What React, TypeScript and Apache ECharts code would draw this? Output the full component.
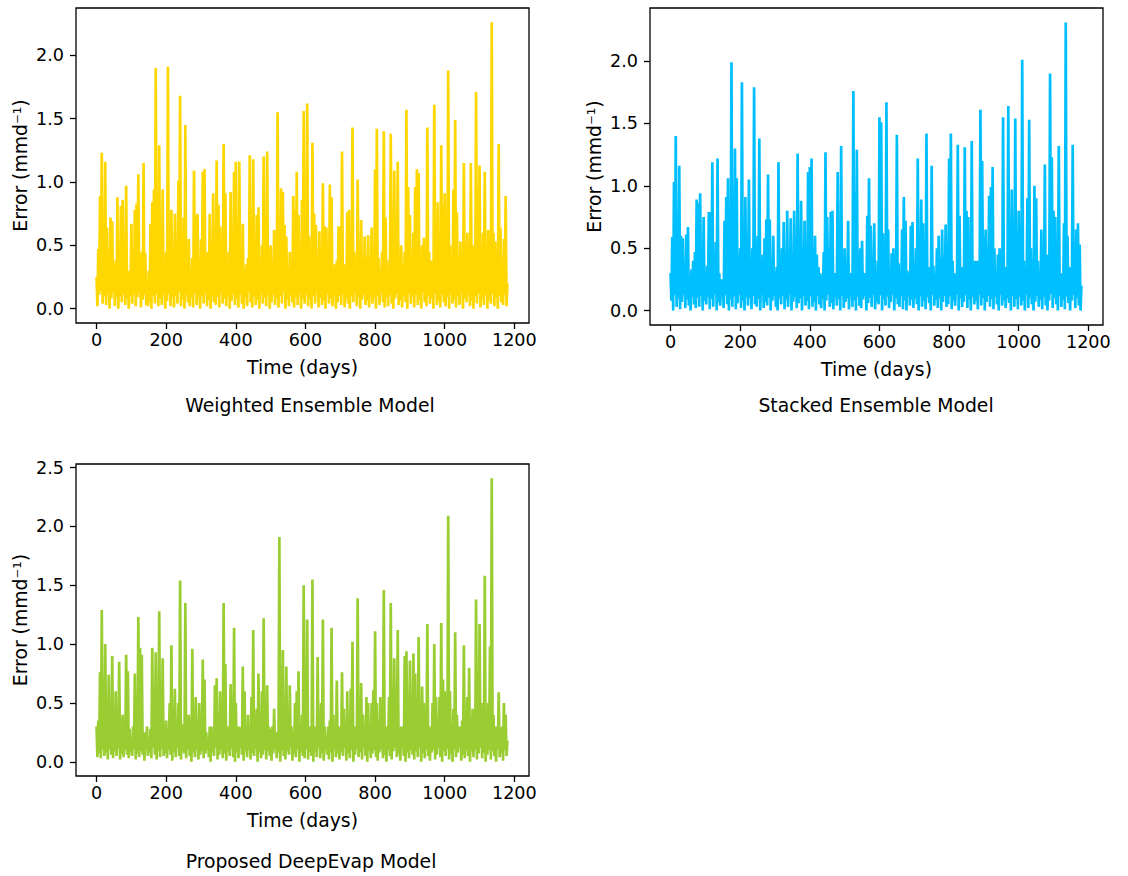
import React, { useEffect, useRef } from "react";
import * as echarts from "echarts";

// Peaks are sampled every STEP_DAYS; troughs sit half-way between consecutive peaks
const STEP_DAYS = 5;

const xTicks = [0, 200, 400, 600, 800, 1000, 1200];
const yTicksA = [0, 0.5, 1, 1.5, 2];
const yTicksB = [0, 0.5, 1, 1.5, 2, 2.5];

const titles = ["Weighted Ensemble Model", "Stacked Ensemble Model", "Proposed DeepEvap Model"];
const xName = "Time (days)";
const yName = "Error (mmd\u207B\u00B9)";
const colors = ["#FFD700", "#00BFFF", "#9ACD32"];

// Weighted Ensemble Model error (mm/d): local highs, days 0..1180 every 5 days
const weightedHigh = [
  0.25, 0.47, 0.89, 1.23, 0.32, 1.16, 0.64, 0.28, 0.72, 0.69, 0.35, 0.38, 0.88, 0.3, 0.81, 0.86, 0.4, 0.97, 0.3, 0.26,
  0.67, 0.35, 0.78, 0.83, 1.06, 0.3, 0.45, 1.15, 0.44, 0.22, 0.3, 0.67, 0.84, 0.94, 1.9, 0.42, 1.29, 0.25, 0.94, 0.38,
  0.45, 1.91, 0.35, 0.78, 0.3, 0.75, 0.3, 1.01, 1.68, 0.4, 0.72, 1.45, 0.33, 0.55, 0.28, 0.4, 1.09, 0.73, 0.75, 0.3,
  0.55, 1.08, 1.1, 0.36, 0.45, 0.75, 0.2, 0.91, 0.42, 1.17, 0.82, 0.65, 0.3, 1.3, 0.91, 0.27, 0.45, 0.92, 0.35, 1.08,
  1.16, 0.38, 1.16, 0.5, 0.67, 0.3, 0.35, 0.4, 1.21, 0.25, 1.18, 0.3, 0.74, 0.8, 0.35, 0.5, 1.2, 0.33, 1.24, 0.3,
  0.5, 0.28, 0.62, 0.3, 1.55, 0.4, 0.95, 0.92, 0.66, 0.57, 0.3, 0.45, 0.36, 0.89, 0.78, 1.08, 0.74, 0.28, 0.86, 1.56,
  0.4, 1.62, 0.57, 0.3, 1.31, 0.75, 0.66, 0.35, 0.61, 0.42, 0.99, 0.65, 0.64, 0.3, 0.98, 0.88, 0.25, 0.35, 0.38, 0.65,
  0.65, 1.24, 0.3, 0.35, 0.76, 0.78, 0.28, 1.43, 0.45, 0.35, 1.02, 0.32, 0.7, 0.3, 0.57, 0.4, 0.58, 0.2, 0.64, 0.35,
  1.1, 1.42, 0.4, 0.3, 0.45, 1.4, 0.72, 0.26, 0.38, 1.38, 0.4, 1.09, 0.3, 1.16, 0.3, 0.5, 0.35, 0.45, 1.57, 0.96,
  0.74, 0.3, 0.6, 0.96, 1.1, 1.07, 0.42, 0.5, 0.56, 0.3, 1.43, 0.45, 0.38, 0.35, 1.61, 0.6, 0.84, 0.3, 1.29, 0.82,
  0.91, 0.35, 1.88, 0.5, 0.28, 0.94, 1.49, 0.76, 0.4, 0.53, 0.3, 1.15, 0.5, 0.6, 0.33, 1.15, 0.5, 0.36, 1.71, 0.94,
  1.13, 0.3, 0.6, 1.08, 0.5, 0.62, 0.4, 2.26, 0.6, 0.53, 0.3, 1.3, 0.64, 0.35, 0.55, 0.89, 0.2,
];
const weightedLow = [
  0.02, 0.11, 0.14, 0.04, 0.1, 0.03, 0.12, 0.0, 0.08, 0.13, 0.02, 0.09, 0.0, 0.1, 0.05, 0.12, 0.03, 0.08, 0.0, 0.1,
  0.04, 0.12, 0.02, 0.09, 0.13, 0.01, 0.07, 0.11, 0.03, 0.02, 0.05, 0.0, 0.1, 0.04, 0.12, 0.02, 0.08, 0.03, 0.11, 0.0,
  0.06, 0.12, 0.02, 0.09, 0.01, 0.1, 0.04, 0.13, 0.02, 0.07, 0.0, 0.11, 0.05, 0.02, 0.09, 0.01, 0.12, 0.03, 0.08, 0.0,
  0.1, 0.04, 0.12, 0.02, 0.07, 0.0, 0.11, 0.05, 0.03, 0.09, 0.01, 0.13, 0.04, 0.08, 0.02, 0.1, 0.0, 0.06, 0.12, 0.03,
  0.08, 0.01, 0.11, 0.04, 0.0, 0.09, 0.02, 0.13, 0.05, 0.01, 0.1, 0.03, 0.07, 0.0, 0.12, 0.04, 0.09, 0.02, 0.11, 0.0,
  0.05, 0.12, 0.03, 0.08, 0.01, 0.1, 0.04, 0.13, 0.0, 0.07, 0.02, 0.11, 0.05, 0.01, 0.09, 0.03, 0.12, 0.0, 0.08, 0.04,
  0.11, 0.02, 0.07, 0.0, 0.1, 0.04, 0.13, 0.01, 0.09, 0.03, 0.06, 0.0, 0.12, 0.04, 0.08, 0.02, 0.11, 0.0, 0.05, 0.1,
  0.03, 0.12, 0.01, 0.08, 0.04, 0.0, 0.1, 0.05, 0.13, 0.02, 0.09, 0.0, 0.07, 0.11, 0.03, 0.06, 0.01, 0.12, 0.04, 0.08,
  0.0, 0.1, 0.03, 0.13, 0.05, 0.01, 0.09, 0.02, 0.11, 0.04, 0.0, 0.08, 0.12, 0.03, 0.07, 0.01, 0.1, 0.05, 0.0, 0.12,
  0.04, 0.09, 0.01, 0.11, 0.03, 0.07, 0.0, 0.13, 0.05, 0.02, 0.1, 0.04, 0.08, 0.0, 0.12, 0.03, 0.06, 0.01, 0.11, 0.05,
  0.02, 0.09, 0.0, 0.12, 0.04, 0.07, 0.01, 0.1, 0.03, 0.13, 0.0, 0.08, 0.05, 0.11, 0.02, 0.06, 0.0, 0.1, 0.04, 0.12,
  0.01, 0.08, 0.03, 0.11, 0.0, 0.07, 0.04, 0.12, 0.02, 0.09, 0.0, 0.1, 0.05, 0.03, 0.11, 0.02,
];

// Stacked Ensemble Model error (mm/d)
const stackedHigh = [
  0.3, 0.59, 1.03, 1.4, 0.35, 1.16, 0.6, 0.58, 0.3, 0.61, 0.67, 0.28, 0.33, 0.4, 0.47, 0.89, 0.86, 0.94, 0.3, 0.75,
  0.3, 0.36, 0.79, 0.79, 1.19, 0.4, 0.55, 1.22, 0.3, 0.25, 0.25, 0.72, 0.91, 1.06, 0.42, 1.99, 0.6, 1.3, 1.06, 0.35,
  0.5, 1.83, 0.3, 0.91, 0.3, 1.05, 0.38, 0.5, 1.79, 0.4, 0.6, 1.38, 0.3, 0.45, 0.58, 0.73, 1.09, 0.73, 0.4, 0.6,
  0.3, 0.35, 1.19, 0.28, 0.5, 0.71, 0.42, 0.8, 0.3, 0.74, 0.4, 0.8, 0.3, 1.26, 0.45, 0.88, 0.32, 0.72, 0.2, 1.11,
  1.15, 1.22, 0.3, 0.6, 0.45, 0.35, 0.3, 0.28, 0.47, 1.27, 0.75, 0.36, 0.79, 0.8, 0.3, 0.3, 1.11, 0.73, 1.32, 0.4,
  0.5, 0.35, 0.72, 0.3, 0.3, 1.76, 0.95, 1.29, 0.38, 0.5, 0.56, 0.3, 0.3, 0.76, 1.06, 0.68, 0.35, 0.7, 0.3, 0.4,
  1.55, 1.51, 0.62, 0.3, 1.67, 0.65, 0.28, 0.46, 0.5, 0.35, 1.41, 0.38, 0.3, 0.65, 0.91, 0.72, 0.32, 0.3, 0.68, 0.71,
  0.35, 0.5, 1.22, 0.3, 0.89, 0.7, 0.4, 1.42, 0.28, 0.35, 1.16, 0.36, 0.3, 0.5, 0.6, 0.42, 0.65, 0.3, 0.69, 0.35,
  1.22, 1.42, 0.4, 0.3, 0.3, 1.33, 0.76, 0.35, 0.35, 1.31, 0.8, 0.75, 0.3, 1.36, 0.35, 0.4, 0.4, 0.3, 1.61, 1.2,
  0.6, 0.65, 0.4, 0.92, 0.99, 1.15, 0.5, 0.3, 0.45, 0.5, 0.38, 1.55, 0.35, 0.3, 1.64, 0.6, 0.97, 0.35, 1.54, 0.6,
  0.8, 0.42, 2.01, 0.4, 0.3, 0.9, 1.53, 0.5, 0.35, 1.0, 0.9, 0.4, 0.3, 0.65, 0.4, 1.17, 0.45, 0.3, 1.9, 1.23,
  0.8, 0.75, 0.35, 1.32, 0.3, 0.3, 0.7, 2.31, 0.6, 0.35, 0.3, 1.33, 0.3, 0.65, 0.7, 0.53, 0.2,
];
const stackedLow = [
  0.08, 0.0, 0.12, 0.03, 0.1, 0.01, 0.07, 0.13, 0.02, 0.09, 0.04, 0.0, 0.11, 0.05, 0.02, 0.1, 0.03, 0.12, 0.0, 0.08,
  0.05, 0.11, 0.01, 0.09, 0.03, 0.13, 0.0, 0.07, 0.04, 0.1, 0.02, 0.12, 0.05, 0.0, 0.09, 0.03, 0.11, 0.01, 0.06, 0.13,
  0.02, 0.08, 0.0, 0.11, 0.04, 0.1, 0.01, 0.12, 0.05, 0.03, 0.09, 0.0, 0.13, 0.02, 0.07, 0.04, 0.1, 0.0, 0.08, 0.12,
  0.03, 0.0, 0.1, 0.05, 0.12, 0.01, 0.09, 0.03, 0.13, 0.0, 0.07, 0.11, 0.02, 0.06, 0.1, 0.0, 0.12, 0.04, 0.08, 0.01,
  0.11, 0.03, 0.07, 0.0, 0.12, 0.05, 0.02, 0.1, 0.0, 0.08, 0.13, 0.03, 0.06, 0.01, 0.11, 0.04, 0.09, 0.0, 0.12, 0.02,
  0.07, 0.1, 0.01, 0.13, 0.03, 0.08, 0.0, 0.11, 0.04, 0.02, 0.09, 0.12, 0.0, 0.06, 0.1, 0.03, 0.13, 0.01, 0.07, 0.05,
  0.12, 0.0, 0.09, 0.04, 0.11, 0.02, 0.07, 0.13, 0.0, 0.1, 0.05, 0.03, 0.12, 0.01, 0.08, 0.0, 0.11, 0.04, 0.09, 0.02,
  0.1, 0.05, 0.0, 0.12, 0.03, 0.08, 0.01, 0.11, 0.06, 0.0, 0.13, 0.04, 0.09, 0.02, 0.1, 0.0, 0.07, 0.12, 0.03, 0.05,
  0.11, 0.01, 0.08, 0.04, 0.13, 0.0, 0.1, 0.03, 0.07, 0.12, 0.02, 0.09, 0.0, 0.11, 0.05, 0.08, 0.01, 0.13, 0.04, 0.1,
  0.0, 0.07, 0.12, 0.03, 0.09, 0.01, 0.11, 0.05, 0.0, 0.13, 0.04, 0.08, 0.02, 0.1, 0.06, 0.0, 0.12, 0.03, 0.09, 0.01,
  0.11, 0.04, 0.08, 0.0, 0.13, 0.02, 0.1, 0.05, 0.0, 0.07, 0.12, 0.03, 0.09, 0.01, 0.11, 0.04, 0.0, 0.08, 0.13, 0.02,
  0.1, 0.05, 0.0, 0.12, 0.03, 0.09, 0.01, 0.11, 0.06, 0.0, 0.08, 0.13, 0.02, 0.1, 0.04, 0.0,
];

// Proposed DeepEvap Model error (mm/d)
const deepEvapHigh = [
  0.3, 0.35, 0.76, 1.29, 0.3, 1.0, 0.3, 0.74, 0.25, 0.9, 0.3, 0.6, 0.22, 0.85, 0.3, 0.4, 0.35, 0.91, 0.77, 0.28,
  0.2, 0.3, 0.75, 0.35, 1.23, 0.97, 0.91, 0.25, 0.25, 0.3, 0.2, 0.28, 0.97, 0.4, 0.93, 0.3, 1.28, 0.45, 0.88, 0.3,
  0.35, 0.25, 0.5, 0.99, 0.45, 0.62, 0.3, 0.5, 1.54, 0.2, 0.32, 1.35, 0.3, 0.4, 0.25, 0.96, 0.3, 0.55, 0.28, 0.5,
  0.3, 0.87, 0.7, 0.25, 0.2, 0.3, 0.3, 0.22, 0.65, 0.71, 0.3, 0.6, 0.25, 1.35, 0.83, 0.3, 0.3, 0.66, 0.35, 1.14,
  0.5, 0.3, 0.3, 0.25, 0.81, 0.6, 0.3, 0.4, 0.28, 0.55, 1.12, 0.3, 0.45, 0.75, 0.25, 0.6, 1.22, 0.3, 0.65, 0.3,
  0.28, 0.3, 0.45, 0.25, 0.25, 1.91, 0.3, 0.95, 0.5, 0.81, 0.3, 0.65, 0.3, 0.25, 0.5, 0.6, 0.77, 0.3, 0.4, 1.5,
  0.35, 1.21, 0.3, 0.25, 1.55, 0.25, 0.3, 0.89, 0.28, 0.5, 1.21, 0.3, 0.2, 0.3, 0.35, 1.14, 0.4, 0.25, 0.69, 0.3,
  0.28, 0.76, 0.45, 0.3, 0.6, 0.25, 0.62, 1.02, 0.3, 0.28, 1.39, 0.35, 0.67, 0.4, 0.3, 0.55, 0.5, 0.3, 0.5, 0.61,
  1.11, 0.5, 0.3, 0.55, 0.35, 1.46, 0.2, 0.3, 0.55, 1.35, 0.3, 0.88, 0.28, 1.12, 0.2, 0.3, 0.3, 0.9, 0.94, 0.4,
  0.86, 0.3, 0.92, 0.75, 0.5, 1.06, 0.3, 0.64, 0.5, 0.25, 1.17, 0.2, 0.3, 0.5, 1.0, 0.55, 0.3, 0.55, 1.18, 0.7,
  0.6, 0.3, 2.09, 0.6, 0.28, 0.45, 1.1, 0.4, 0.3, 0.3, 0.35, 0.99, 0.2, 0.55, 0.8, 0.3, 0.45, 0.3, 1.38, 0.7,
  1.17, 0.5, 0.3, 1.58, 0.4, 0.5, 0.98, 2.41, 0.4, 0.3, 0.3, 0.59, 0.28, 0.3, 0.5, 0.4, 0.18,
];
const deepEvapLow = [
  0.04, 0.07, 0.03, 0.1, 0.05, 0.08, 0.02, 0.11, 0.06, 0.03, 0.09, 0.05, 0.12, 0.02, 0.07, 0.04, 0.1, 0.06, 0.03, 0.08,
  0.05, 0.11, 0.02, 0.07, 0.04, 0.09, 0.06, 0.01, 0.1, 0.05, 0.08, 0.03, 0.12, 0.06, 0.02, 0.09, 0.04, 0.11, 0.05, 0.07,
  0.03, 0.1, 0.06, 0.01, 0.08, 0.04, 0.12, 0.05, 0.02, 0.09, 0.07, 0.03, 0.11, 0.05, 0.0, 0.08, 0.04, 0.1, 0.02, 0.06,
  0.09, 0.03, 0.07, 0.11, 0.04, 0.0, 0.08, 0.05, 0.12, 0.02, 0.06, 0.1, 0.03, 0.07, 0.01, 0.09, 0.05, 0.11, 0.04, 0.0,
  0.08, 0.03, 0.12, 0.06, 0.01, 0.09, 0.04, 0.1, 0.02, 0.07, 0.05, 0.11, 0.0, 0.08, 0.03, 0.06, 0.1, 0.02, 0.09, 0.05,
  0.01, 0.07, 0.11, 0.03, 0.08, 0.0, 0.1, 0.05, 0.02, 0.09, 0.06, 0.12, 0.01, 0.07, 0.04, 0.1, 0.0, 0.08, 0.05, 0.03,
  0.11, 0.02, 0.08, 0.05, 0.0, 0.09, 0.04, 0.12, 0.03, 0.07, 0.01, 0.1, 0.06, 0.02, 0.08, 0.0, 0.11, 0.04, 0.07, 0.02,
  0.09, 0.05, 0.12, 0.01, 0.07, 0.03, 0.1, 0.0, 0.06, 0.11, 0.04, 0.08, 0.02, 0.12, 0.05, 0.0, 0.09, 0.03, 0.07, 0.1,
  0.04, 0.01, 0.08, 0.11, 0.03, 0.06, 0.0, 0.1, 0.05, 0.02, 0.09, 0.12, 0.04, 0.07, 0.01, 0.11, 0.05, 0.0, 0.08, 0.03,
  0.1, 0.06, 0.02, 0.09, 0.04, 0.12, 0.0, 0.07, 0.03, 0.11, 0.05, 0.01, 0.08, 0.1, 0.02, 0.06, 0.12, 0.04, 0.0, 0.09,
  0.05, 0.11, 0.02, 0.07, 0.0, 0.1, 0.04, 0.08, 0.12, 0.01, 0.06, 0.03, 0.11, 0.05, 0.0, 0.09, 0.04, 0.1, 0.02, 0.07,
  0.12, 0.03, 0.08, 0.0, 0.06, 0.1, 0.02, 0.09, 0.05, 0.0, 0.11, 0.04, 0.07, 0.01, 0.1, 0.05,
];

const FONT = "DejaVu Sans";
const TICK_FS = 17.6;
const LABEL_FS = 18.8;

const panels = [
  { left: 76, top: 8, width: 453, height: 315, ymin: -0.113, ymax: 2.373, yTicks: yTicksA, high: weightedHigh, low: weightedLow, titleX: 310, titleY: 405 },
  { left: 650, top: 8, width: 453, height: 317, ymin: -0.1155, ymax: 2.4255, yTicks: yTicksA, high: stackedHigh, low: stackedLow, titleX: 876, titleY: 405 },
  { left: 76, top: 464, width: 453, height: 312, ymin: -0.1205, ymax: 2.5305, yTicks: yTicksB, high: deepEvapHigh, low: deepEvapLow, titleX: 311, titleY: 861 },
];

function buildSeries(high: number[], low: number[]) {
  const out: number[][] = [];
  high.forEach((v, k) => {
    out.push([k * STEP_DAYS, v]);
    if (k < low.length) out.push([k * STEP_DAYS + STEP_DAYS / 2, low[k]]);
  });
  return out;
}

export default function App() {
  const ref = useRef<HTMLDivElement>(null);
  useEffect(() => {
    if (!ref.current) return;
    const chart = echarts.init(ref.current, undefined, { renderer: "svg" });
    const tickText = { fontFamily: FONT, fontSize: TICK_FS, color: "#000" };
    const nameText = { fontFamily: FONT, fontSize: LABEL_FS, color: "#000" };
    const option: any = {
      animation: false,
      backgroundColor: "#fff",
      grid: panels.map((p) => ({
        left: p.left,
        top: p.top,
        width: p.width,
        height: p.height,
        show: true,
        borderColor: "#000",
        borderWidth: 1.3,
        backgroundColor: "transparent",
      })),
      xAxis: panels.map((p, i) => ({
        type: "value",
        gridIndex: i,
        min: -59,
        max: 1242,
        splitLine: { show: false },
        axisLine: { show: false, onZero: false },
        axisTick: { show: true, customValues: xTicks, length: 6, lineStyle: { color: "#000", width: 1.3 } },
        axisLabel: { customValues: xTicks, margin: 8, formatter: (v: number) => String(v), ...tickText },
        name: xName,
        nameLocation: "middle",
        nameGap: 35,
        nameTextStyle: nameText,
      })),
      yAxis: panels.map((p, i) => ({
        type: "value",
        gridIndex: i,
        min: p.ymin,
        max: p.ymax,
        splitLine: { show: false },
        axisLine: { show: false, onZero: false },
        axisTick: { show: true, customValues: p.yTicks, length: 6, lineStyle: { color: "#000", width: 1.3 } },
        axisLabel: { customValues: p.yTicks, margin: 12, formatter: (v: number) => v.toFixed(1), ...tickText },
        name: yName,
        nameLocation: "middle",
        nameGap: 46,
        nameTextStyle: nameText,
      })),
      series: panels.map((p, i) => ({
        type: "line",
        xAxisIndex: i,
        yAxisIndex: i,
        showSymbol: false,
        symbol: "none",
        data: buildSeries(p.high, p.low),
        lineStyle: { color: colors[i], width: 2.7, join: "miter" },
        itemStyle: { color: colors[i] },
      })),
      graphic: panels.map((p, i) => ({
        type: "text",
        x: p.titleX,
        y: p.titleY,
        style: { text: titles[i], fontFamily: FONT, fontSize: LABEL_FS, fill: "#000", textAlign: "center", textVerticalAlign: "middle" },
      })),
    };
    chart.setOption(option);
    return () => chart.dispose();
  }, []);
  return <div ref={ref} style={{ position: "fixed", left: 0, top: 0, width: 1128, height: 876 }} />;
}
